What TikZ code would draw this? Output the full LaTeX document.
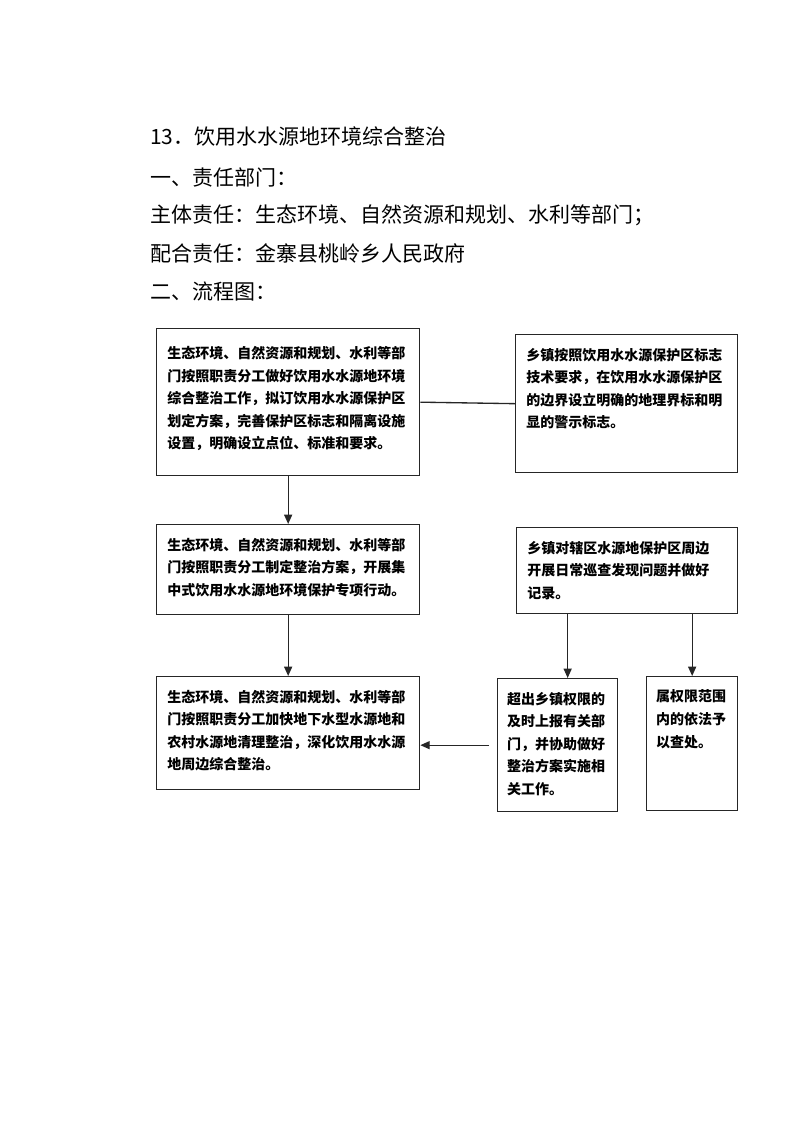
\documentclass[tikz,border=0pt]{standalone}
\usepackage{fontspec}
\setmainfont{Noto Sans CJK SC}
\usetikzlibrary{arrows.meta}

% top-aligned text block of fixed size: width, height, lines
\newcommand{\boxtext}[3]{\parbox[c][#2][t]{#1}{#3}}

\begin{document}
\begin{tikzpicture}[x=0.75pt, y=-0.75pt,
    box/.style={draw=black!85, line width=1pt, anchor=north west, inner xsep=8pt, inner ysep=10pt,
        font=\fontsize{10.5pt}{16.9pt}\selectfont\bfseries},
    head/.style={anchor=west, inner sep=0pt, font=\fontsize{15.75pt}{18pt}\selectfont},
    flow/.style={-{Triangle[length=7pt,width=6pt]}, line width=1pt, black!85}]
    \useasboundingbox (0,0) rectangle (794,1122);

    % Heading lines
    \node[head] (title) at (150,137) {13．饮用水水源地环境综合整治};
    \node[head] (dept) at (150,177) {一、责任部门：};
    \node[head] (main) at (150,215) {主体责任：生态环境、自然资源和规划、水利等部门；};
    \node[head] (help) at (150,253) {配合责任：金寨县桃岭乡人民政府};
    \node[head] (chart) at (150,292) {二、流程图：};

    % Left column
    \node[box, inner ysep=13.5pt] (plan) at (156,328) {\boxtext{181.25pt}{83.25pt}{生态环境、自然资源和规划、水利等部\\门按照职责分工做好饮用水水源地环境\\综合整治工作，拟订饮用水水源保护区\\划定方案，完善保护区标志和隔离设施\\设置，明确设立点位、标准和要求。}};
    \node[box] (act) at (156,524) {\boxtext{181.25pt}{47.5pt}{生态环境、自然资源和规划、水利等部\\门按照职责分工制定整治方案，开展集\\中式饮用水水源地环境保护专项行动。}};
    \node[box] (clean) at (156,676) {\boxtext{181.25pt}{64.75pt}{生态环境、自然资源和规划、水利等部\\门按照职责分工加快地下水型水源地和\\农村水源地清理整治，深化饮用水水源\\地周边综合整治。}};

    % Right column
    \node[box] (mark) at (515,334) {\boxtext{150.5pt}{83.5pt}{乡镇按照饮用水水源保护区标志\\技术要求，在饮用水水源保护区\\的边界设立明确的地理界标和明\\显的警示标志。}};
    \node[box] (patrol) at (516,527) {\boxtext{149.75pt}{44.5pt}{乡镇对辖区水源地保护区周边\\开展日常巡查发现问题并做好\\记录。}};
    \node[box, inner xsep=7pt] (report) at (497,678) {\boxtext{76pt}{79.75pt}{超出乡镇权限的\\及时上报有关部\\门，并协助做好\\整治方案实施相\\关工作。}};
    \node[box, inner xsep=7pt] (punish) at (646,676) {\boxtext{54.25pt}{80.5pt}{属权限范围\\内的依法予\\以查处。}};

    % Connectors
    \draw[line width=1pt, black!85] (plan.east) -- (mark.west);
    \draw[flow] (plan.south) -- (act.north);
    \draw[flow] (act.south) -- (clean.north);
    \draw[flow] ([xshift=7.5pt]report.north |- patrol.south) -- ([xshift=7.5pt]report.north);
    \draw[flow] (punish.north |- patrol.south) -- (punish.north);
    \draw[flow, shorten <=6pt] (report.west) -- (clean.east |- report.west);
\end{tikzpicture}
\end{document}
